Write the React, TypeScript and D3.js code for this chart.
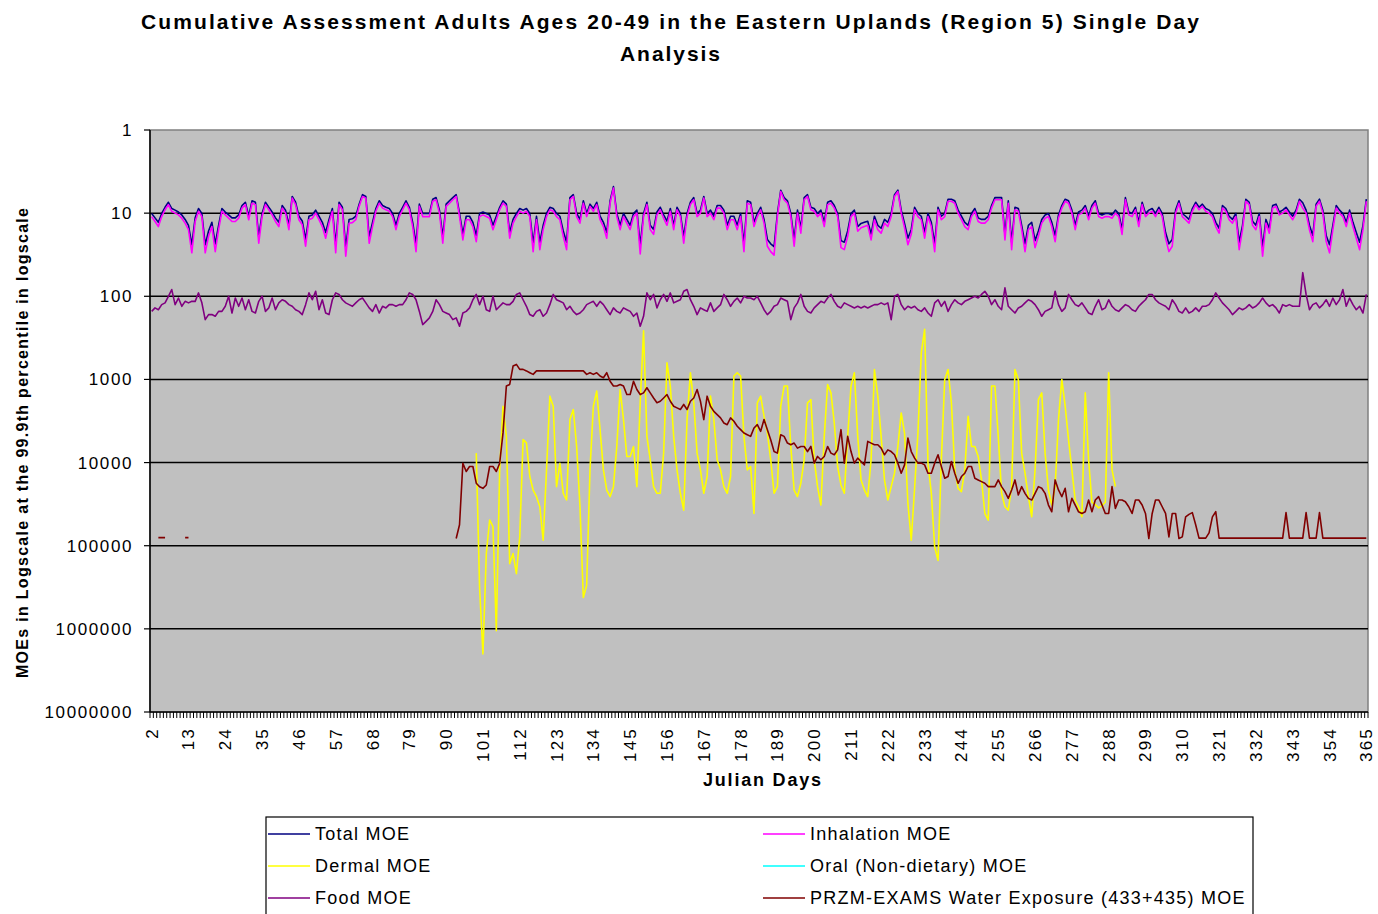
import React from 'react';
import * as d3 from 'd3';

const titleLines = [
  'Cumulative Assessment Adults Ages 20-49 in the Eastern Uplands (Region 5) Single Day',
  'Analysis',
];
const yAxisTitle = 'MOEs in Logscale at the 99.9th percentile in logscale';
const xAxisTitle = 'Julian Days';

const firstDay = 2;
const lastDay = 365;
const xTickLabels = [2, 13, 24, 35, 46, 57, 68, 79, 90, 101, 112, 123, 134, 145, 156, 167, 178, 189, 200, 211, 222, 233, 244, 255, 266, 277, 288, 299, 310, 321, 332, 343, 354, 365];
const yTickValues = [1, 10, 100, 1000, 10000, 100000, 1000000, 10000000];

// Total MOE, days 2..365
const totalMOE = [
  // 2-62
  10.1, 11.4, 12.9, 10.1, 8.5, 7.4, 8.8, 9.2, 9.7, 10.5, 11.9, 14, 24, 11.4, 8.8, 10.1, 24, 16.4, 12.9, 23.4,
  14, 8.8, 9.7, 10.5, 11.4, 11.4, 10.5, 8.1, 7.4, 10.9, 7.1, 7.4, 19.3, 10.1, 7.4, 8.5, 9.7, 11.4, 12.9, 8.1,
  9.2, 14, 6.3, 7.4, 10.9, 12.4, 20.7, 10.9, 10.5, 9.2, 10.9, 12.9, 17.1, 11.9, 8.8, 24, 7.4, 8.5, 25.9, 11.9, 11.7,
  // 63-123
  10.9, 7.8, 6.0, 6.3, 19.3, 12.9, 8.8, 7.1, 8.1, 8.5, 8.8, 10.1, 14, 10.1, 8.5, 7.1, 8.5, 12.9, 23.4, 7.8,
  10.1, 10.1, 10.1, 6.8, 6.5, 9.2, 19.3, 7.8, 7.1, 6.5, 6.0, 10.1, 17.9, 10.9, 10.9, 12.9, 18.6, 10.1, 9.7, 10.1,
  10.5, 14, 10.9, 8.5, 7.1, 7.8, 17.1, 11.9, 10.1, 8.8, 9.2, 8.8, 10.1, 23.4, 10.9, 22.4, 14, 10.1, 8.5, 8.8, 10.1,
  // 124-184
  10.9, 16.4, 22.4, 6.5, 6.0, 10.1, 11.9, 7.1, 10.1, 7.8, 8.8, 7.4, 10.9, 12.9, 17.1, 7.1, 4.8, 10.1, 14, 10.1,
  11.9, 14, 10.1, 9.2, 24.6, 10.1, 7.4, 14, 15.7, 9.7, 8.5, 10.5, 12.5, 8.8, 14, 8.5, 10.1, 19.3, 10.1, 7.4,
  6.5, 10.1, 9.2, 6.3, 10.1, 9.2, 10.9, 8.1, 8.1, 9.2, 14, 10.9, 10.9, 14, 10.1, 23.4, 7.1, 7.4, 12.9, 10.1, 8.5,
  // 185-245
  11.9, 20.7, 23.4, 25.3, 10.1, 5.3, 6.5, 7.1, 10.1, 20.7, 9.2, 15.2, 6.5, 6.0, 8.5, 8.8, 10.1, 9.2, 12.9, 7.4,
  7.1, 8.1, 10.1, 21.4, 22.4, 16.4, 10.1, 9.2, 14.5, 13.3, 12.9, 12.5, 17.9, 10.9, 14, 15.2, 11.9, 12.9, 10.1, 6.0,
  5.3, 9.2, 13.3, 20, 15.7, 8.5, 10.1, 10.9, 17.1, 10.1, 12.9, 23.4, 8.5, 10.9, 10.1, 6.8, 6.8, 7.1, 9.2, 10.9, 12.9,
  // 246-306
  14, 10.1, 8.8, 11.4, 11.9, 11.9, 10.9, 8.1, 6.5, 6.5, 6.5, 17.9, 7.1, 22.4, 8.5, 8.8, 14, 23.4, 14, 12.9,
  21.4, 16.4, 11.9, 10.5, 10.1, 12.9, 18.6, 10.5, 8.1, 6.8, 7.1, 9.2, 14, 9.7, 9.2, 8.1, 10.9, 8.1, 7.1, 10.1,
  10.5, 10.1, 10.1, 10.5, 9.2, 10.1, 15.7, 6.5, 9.7, 10.1, 8.5, 12.9, 7.4, 10.1, 9.2, 8.8, 10.1, 8.5, 10.1, 17.1, 23.4,
  // 307-365
  20.7, 9.2, 7.1, 10.1, 10.9, 11.9, 8.8, 7.4, 8.5, 7.8, 8.8, 9.2, 10.1, 12.9, 15.2, 8.1, 8.8, 10.9, 11.9, 10.1,
  22.4, 14, 6.8, 7.4, 12.5, 14, 10.1, 25.9, 11.9, 15.2, 8.1, 7.8, 9.7, 9.2, 8.5, 9.7, 10.9, 9.2, 6.8, 7.5,
  9.2, 14, 18.6, 7.8, 6.8, 9.2, 18.6, 24, 14, 8.1, 9.2, 10.1, 12.9, 9.2, 12.9, 17.1, 22.4, 14, 6.8,
];

// Inhalation MOE, days 2..365
const inhalationMOE = [
  // 2-62
  11, 12.6, 14.5, 11, 9.1, 7.9, 9.5, 10, 10.5, 11.5, 13.2, 15.8, 30, 12.6, 9.5, 11, 30, 19, 14.5, 29,
  15.8, 9.5, 10.5, 11.5, 12.6, 12.6, 11.5, 8.7, 7.9, 12, 7.6, 7.9, 23, 11, 7.9, 9.1, 10.5, 12.6, 14.5, 8.7,
  10, 15.8, 6.6, 7.9, 12, 13.8, 25, 12, 11.5, 10, 12, 14.5, 20, 13.2, 9.5, 30, 7.9, 9.1, 33, 13.2, 13,
  // 63-123
  12, 8.3, 6.3, 6.6, 23, 14.5, 9.5, 7.6, 8.7, 9.1, 9.5, 11, 15.8, 11, 9.1, 7.6, 9.1, 14.5, 29, 8.3,
  11, 11, 11, 7.2, 6.9, 10, 23, 8.3, 7.6, 6.9, 6.3, 11, 21, 12, 12, 14.5, 22, 11, 10.5, 11,
  11.5, 15.8, 12, 9.1, 7.6, 8.3, 20, 13.2, 11, 9.5, 10, 9.5, 11, 29, 12, 27.5, 15.8, 11, 9.1, 9.5, 11,
  // 124-184
  12, 19, 27.5, 6.9, 6.3, 11, 13.2, 7.6, 11, 8.3, 9.5, 7.9, 12, 14.5, 20, 7.6, 5, 11, 15.8, 11,
  13.2, 15.8, 11, 10, 31, 11, 7.9, 15.8, 18, 10.5, 9.1, 11.5, 14, 9.5, 15.8, 9.1, 11, 23, 11, 7.9,
  6.9, 11, 10, 6.6, 11, 10, 12, 8.7, 8.7, 10, 15.8, 12, 12, 15.8, 11, 29, 7.6, 7.9, 14.5, 11, 9.1,
  // 185-245
  13.2, 25, 29, 32, 11, 5.5, 6.9, 7.6, 11, 25, 10, 17.4, 6.9, 6.3, 9.1, 9.5, 11, 10, 14.5, 7.9,
  7.6, 8.7, 11, 26, 27.5, 19, 11, 10, 16.5, 15, 14.5, 14, 21, 12, 15.8, 17.4, 13.2, 14.5, 11, 6.3,
  5.5, 10, 15, 24, 18, 9.1, 11, 12, 20, 11, 14.5, 29, 9.1, 12, 11, 7.2, 7.2, 7.6, 10, 12, 14.5,
  // 246-306
  15.8, 11, 9.5, 12.6, 13.2, 13.2, 12, 8.7, 6.9, 6.9, 6.9, 21, 7.6, 27.5, 9.1, 9.5, 15.8, 29, 15.8, 14.5,
  26, 19, 13.2, 11.5, 11, 14.5, 22, 11.5, 8.7, 7.2, 7.6, 10, 15.8, 10.5, 10, 8.7, 12, 8.7, 7.6, 11,
  11.5, 11, 11, 11.5, 10, 11, 18, 6.9, 10.5, 11, 9.1, 14.5, 7.9, 11, 10, 9.5, 11, 9.1, 11, 20, 29,
  // 307-365
  25, 10, 7.6, 11, 12, 13.2, 9.5, 7.9, 9.1, 8.3, 9.5, 10, 11, 14.5, 17.4, 8.7, 9.5, 12, 13.2, 11,
  27.5, 15.8, 7.2, 7.9, 14, 15.8, 11, 33, 13.2, 17.4, 8.7, 8.3, 10.5, 10, 9.1, 10.5, 12, 10, 7.2, 8.7,
  10, 15.8, 22, 8.3, 7.2, 10, 22, 30, 15.8, 8.7, 10, 11, 14.5, 10, 14.5, 20, 27.5, 15.8, 7.2,
];

// Food MOE, days 2..365
const foodMOE = [
  // 2-62
  152, 138, 145, 126, 120, 100, 83, 126, 105, 132, 115, 120, 115, 115, 91, 120, 191, 166, 166, 174,
  152, 152, 132, 100, 159, 105, 132, 105, 145, 110, 152, 159, 115, 100, 152, 138, 105, 145, 120, 110,
  115, 126, 132, 145, 152, 166, 126, 91, 110, 87, 145, 110, 159, 166, 110, 91, 95, 110, 120, 126, 132,
  // 63-123
  120, 110, 105, 120, 138, 152, 126, 159, 132, 138, 126, 126, 132, 126, 126, 110, 91, 95, 110, 152,
  219, 200, 182, 152, 110, 126, 152, 159, 166, 191, 182, 229, 159, 152, 138, 110, 95, 126, 100, 145,
  152, 100, 145, 132, 120, 126, 126, 115, 95, 91, 110, 132, 166, 174, 152, 145, 174, 159, 126, 95, 110,
  // 124-184
  115, 120, 145, 132, 152, 166, 159, 145, 126, 120, 115, 132, 115, 126, 145, 166, 138, 152, 159, 138,
  145, 152, 174, 159, 229, 174, 91, 110, 95, 138, 110, 95, 115, 91, 120, 115, 110, 87, 83, 110,
  132, 166, 138, 145, 152, 120, 152, 138, 126, 95, 110, 132, 115, 105, 120, 100, 105, 105, 110, 100, 120,
  // 185-245
  145, 166, 152, 132, 126, 105, 110, 115, 191, 138, 120, 95, 132, 152, 159, 138, 126, 115, 120, 105,
  95, 115, 132, 138, 120, 126, 132, 138, 132, 138, 132, 138, 132, 126, 126, 120, 126, 120, 191, 100,
  95, 126, 145, 132, 138, 132, 145, 152, 138, 159, 174, 120, 110, 132, 115, 152, 126, 110, 120, 126, 115,
  // 246-306
  110, 105, 100, 105, 95, 87, 100, 126, 110, 132, 145, 79, 132, 145, 159, 138, 132, 120, 110, 115,
  126, 145, 174, 152, 145, 138, 87, 126, 152, 138, 95, 110, 126, 132, 120, 138, 159, 166, 132, 110,
  145, 138, 110, 132, 145, 152, 138, 126, 132, 145, 152, 132, 120, 110, 95, 95, 110, 120, 126, 132, 145,
  // 307-365
  110, 126, 152, 159, 138, 159, 152, 138, 152, 132, 132, 126, 110, 91, 105, 120, 132, 145, 166, 152,
  138, 145, 138, 126, 138, 132, 120, 105, 120, 132, 126, 138, 159, 126, 132, 126, 132, 132, 132, 52,
  95, 145, 126, 120, 138, 126, 110, 132, 105, 126, 110, 83, 132, 105, 126, 145, 132, 159, 95,
];

// Dermal MOE, first plotted day and values (days 99..290)
const dermalStartDay = 99;
const dermalMOE = [
  7700, 320000, 2000000, 125000, 49000, 59000, 1050000, 12240, 2100, 4840,
  164500, 124500, 217000, 78000, 5300, 5800, 14700, 21400, 25700, 34000,
  86000, 12240, 1590, 2100, 19500, 10200, 23400, 28200, 3040, 2300,
  6400, 34000, 420000, 300000, 12000, 2100, 1380, 4000, 12240, 21400,
  25700, 19500, 6400, 1320, 3040, 8440, 8440, 6400, 19500, 1910,
  260, 4840, 9260, 19500, 23400, 23400, 7700, 630, 1200, 4840,
  12240, 23400, 37300, 3040, 830, 1910, 7700, 12240, 23400, 14700,
  1590, 3040, 9260, 12240, 19500, 23400, 14700, 910, 830, 910,
  4840, 12240, 11150, 40900, 1910, 1590, 2770, 4410, 9260, 23400,
  19500, 2100, 1200, 1200, 6400, 21400, 25700, 17700, 9260, 1910,
  1750, 9260, 19500, 32400, 4840, 1150, 1450, 3340, 11150, 18600,
  23400, 4840, 1200, 830, 4840, 16200, 21400, 25700, 9260, 760,
  1590, 4840, 16200, 28200, 19500, 13400, 6400, 2530, 4410, 31000,
  86000, 20400, 4410, 476, 250, 10200, 23400, 103500, 150000, 9260,
  1000, 760, 1910, 12240, 20400, 22400, 12240, 2770, 6400, 6400,
  8440, 16200, 40900, 49300, 1200, 1200, 4840, 23400, 34000, 37300,
  19500, 760, 1000, 7700, 13400, 25700, 44900, 12240, 1750, 1450,
  7700, 21400, 32400, 19500, 3040, 1000, 2100, 5300, 12240, 28200,
  34000, 44900, 1450, 9260, 30000, 32000, 35000, 33000, 30000, 830,
  12240, 19500,
];

// PRZM-EXAMS water MOE: isolated early days, then continuous from day 93
const waterEarlyDays = [4, 5, 6, 12, 13];
const waterEarlyMOE = [80000, 80000, 80000, 80000, 80000];
const waterStartDay = 93;
const waterMOE = [
  82000, 56000, 10200, 12800, 11150, 11150, 17700, 19500, 20400, 18600,
  11150, 11150, 12800, 10200, 4400, 1200, 1150, 690, 660, 757,
  757, 790, 830, 870, 790, 790, 790, 790, 790, 790,
  790, 790, 790, 790, 790, 790, 790, 790, 790, 870,
  830, 870, 830, 910, 955, 830, 1050, 1200, 1200, 1150,
  1200, 1520, 1520, 1050, 1320, 1520, 1450, 1260, 1450, 1670,
  1910, 1830, 1670, 1520, 1830, 2100, 2200, 2300, 2000, 2300,
  1830, 1670, 1320, 1830, 3040, 1590, 2100, 2420, 2650, 2900,
  3340, 3500, 2900, 3190, 3660, 4020, 4410, 4620, 4840, 3840,
  3500, 4210, 3040, 4020, 5310, 7370, 7700, 4620, 4840, 5830,
  6100, 5830, 6700, 6400, 6400, 7370, 6400, 10160, 8440, 9260,
  8440, 6400, 7700, 8060, 7030, 4020, 10160, 4840, 7370, 10160,
  8850, 9700, 10650, 5560, 5830, 6100, 6100, 6700, 8060, 7030,
  7370, 8060, 10160, 13430, 10650, 5070, 7370, 8850, 10160, 10160,
  10650, 13430, 13430, 10160, 8060, 11150, 15430, 14730, 9700, 13430,
  17740, 14730, 13430, 11150, 11150, 15430, 16170, 16940, 17740, 19470,
  19470, 19470, 16170, 19470, 22380, 26950, 21360, 16170, 24550, 19470,
  23440, 26950, 28220, 23440, 19470, 20390, 23440, 32430, 39060, 16170,
  21360, 25720, 20390, 39060, 26950, 32430, 39060, 40920, 39060, 28220,
  39060, 28220, 25720, 32430, 40920, 40920, 19470, 35600, 28220, 28220,
  29600, 33980, 40920, 28220, 28220, 32430, 40920, 82000, 40920, 28220,
  28220, 33980, 40920, 78350, 40920, 40920, 82000, 78350, 44900, 42000,
  40000, 56000, 81000, 81000, 81000, 70000, 45000, 39000, 81000, 81000,
  81000, 81000, 81000, 81000, 81000, 81000, 81000, 81000, 81000, 81000,
  81000, 81000, 81000, 81000, 81000, 81000, 81000, 81000, 40000, 81000,
  81000, 81000, 81000, 81000, 40000, 81000, 81000, 81000, 40000, 81000,
  81000, 81000, 81000, 81000, 81000, 81000, 81000, 81000, 81000, 81000,
  81000, 81000, 81000,
];

// Oral (non-dietary) MOE has no values on the plotted scale
const oralMOE: number[] = [];

const seriesNames = [
  'Total MOE',
  'Inhalation MOE',
  'Dermal MOE',
  'Oral (Non-dietary) MOE',
  'Food MOE',
  'PRZM-EXAMS Water Exposure (433+435) MOE',
];
const seriesColors = ['#000080', '#FF00FF', '#FFFF00', '#00FFFF', '#800080', '#800000'];

const FONT = '"Liberation Sans", Arial, sans-serif';

type P = { day: number; v: number | null };

export default function App() {
  const W = 1378;
  const H = 914;
  const left = 150;
  const right = 1368;
  const top = 130;
  const bottom = 712;

  const days = d3.range(firstDay, lastDay + 1);
  const x = d3.scalePoint<number>().domain(days).range([left, right]).padding(0.5);
  const xb = d3.scaleBand<number>().domain(days).range([left, right]);
  const y = d3.scaleLog().domain([1, 1e7]).range([top, bottom]);

  const fullSeries = (vals: number[]): P[] => days.map((d, i) => ({ day: d, v: i < vals.length ? vals[i] : null }));
  const startSeries = (start: number, vals: number[]): P[] =>
    days.map((d) => ({ day: d, v: d >= start && d - start < vals.length ? vals[d - start] : null }));
  const waterSeries: P[] = days.map((d) => {
    const k = waterEarlyDays.indexOf(d);
    if (k >= 0) return { day: d, v: waterEarlyMOE[k] };
    if (d >= waterStartDay && d - waterStartDay < waterMOE.length) return { day: d, v: waterMOE[d - waterStartDay] };
    return { day: d, v: null };
  });

  const series: P[][] = [
    fullSeries(totalMOE),
    fullSeries(inhalationMOE),
    startSeries(dermalStartDay, dermalMOE),
    fullSeries(oralMOE),
    fullSeries(foodMOE),
    waterSeries,
  ];

  const line = d3
    .line<P>()
    .defined((p) => p.v != null && p.v > 0)
    .x((p) => x(p.day) as number)
    .y((p) => y(p.v as number));

  const boundaries = [...days.map((d) => xb(d) as number), right];

  const legendRows = [
    [0, 1],
    [2, 3],
    [4, 5],
  ];

  return (
    <svg width={W} height={H} style={{ position: 'absolute', left: 0, top: 0, background: '#fff' }} fontFamily={FONT}>
      <rect x={0} y={0} width={W} height={H} fill="#ffffff" />
      {/* title */}
      <text x={670} y={29} textAnchor="middle" fontSize={21} fontWeight="bold" fill="#000" textLength={1058} lengthAdjust="spacing">
        {titleLines[0]}
      </text>
      <text x={670} y={61} textAnchor="middle" fontSize={21} fontWeight="bold" fill="#000" textLength={100} lengthAdjust="spacing">
        {titleLines[1]}
      </text>
      {/* plot area */}
      <rect x={left} y={top} width={right - left} height={bottom - top} fill="#C0C0C0" stroke="#808080" strokeWidth={1.5} />
      {yTickValues.slice(1, -1).map((v) => (
        <line key={v} x1={left} x2={right} y1={y(v)} y2={y(v)} stroke="#000" strokeWidth={1.5} />
      ))}
      {/* series */}
      {series.map((pts, i) => (
        <path key={i} d={line(pts) || ''} fill="none" stroke={seriesColors[i]} strokeWidth={1.6} strokeLinejoin="round" />
      ))}
      {/* axes */}
      <line x1={left} x2={left} y1={top} y2={bottom} stroke="#000" strokeWidth={1.5} />
      <line x1={left} x2={right} y1={bottom} y2={bottom} stroke="#000" strokeWidth={1.5} />
      {yTickValues.map((v) => (
        <g key={v}>
          <line x1={left - 6} x2={left} y1={y(v)} y2={y(v)} stroke="#000" strokeWidth={1.2} />
          <text x={133} y={y(v) + 6} textAnchor="end" fontSize={17} letterSpacing={1.6} fill="#000">
            {String(v)}
          </text>
        </g>
      ))}
      {boundaries.map((bx, i) => (
        <line key={i} x1={bx} x2={bx} y1={bottom} y2={bottom + 6} stroke="#000" strokeWidth={1} />
      ))}
      {xTickLabels.map((d) => (
        <text
          key={d}
          transform={`translate(${(x(d) as number) + 6},727) rotate(-90)`}
          textAnchor="end"
          fontSize={17}
          letterSpacing={2.2}
          fill="#000"
        >
          {String(d)}
        </text>
      ))}
      <text x={762} y={786} textAnchor="middle" fontSize={18} fontWeight="bold" fill="#000" textLength={118} lengthAdjust="spacing">
        {xAxisTitle}
      </text>
      <text
        transform={`translate(28,443) rotate(-90)`}
        textAnchor="middle"
        fontSize={16}
        fontWeight="bold"
        fill="#000"
        textLength={470}
        lengthAdjust="spacing"
      >
        {yAxisTitle}
      </text>
      {/* legend */}
      <rect x={266} y={817} width={987} height={110} fill="#fff" stroke="#000" strokeWidth={1.2} />
      {legendRows.map((row, r) =>
        row.map((si, c) => {
          const lx = c === 0 ? 268 : 763;
          const ly = 834 + r * 32;
          return (
            <g key={si}>
              <line x1={lx} x2={lx + 42} y1={ly} y2={ly} stroke={seriesColors[si]} strokeWidth={1.6} />
              <text x={lx + 47} y={ly + 6} fontSize={18} letterSpacing={1.25} fill="#000">
                {seriesNames[si]}
              </text>
            </g>
          );
        })
      )}
    </svg>
  );
}
